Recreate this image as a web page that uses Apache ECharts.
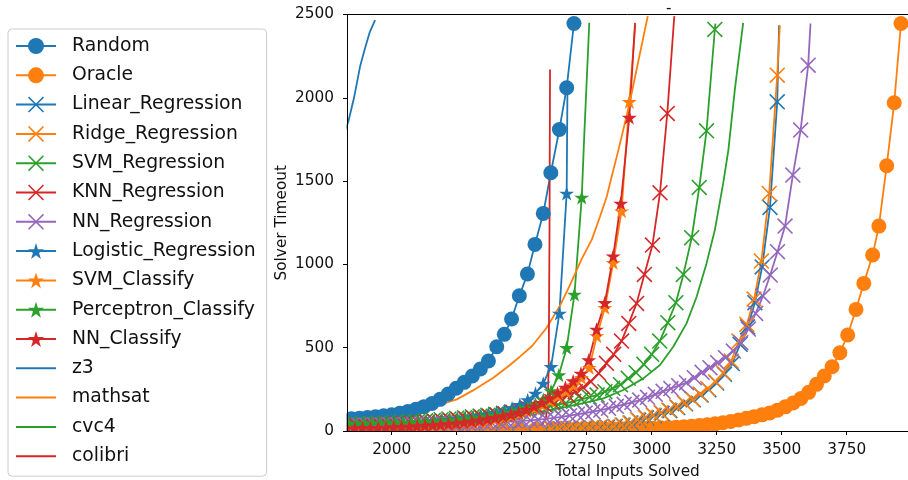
<!DOCTYPE html>
<html>
<head>
<meta charset="utf-8">
<script src="https://cdn.jsdelivr.net/npm/echarts@6/dist/echarts.min.js"></script>
<style>
html, body { margin: 0; padding: 0; background: #fff; }
#chart { width: 908px; height: 480px; }
</style>
</head>
<body>
<div id="chart"></div>
<script>
// cactus plot: [inputs solved, timeout] — marker points, then line-only tail points
const randomPts = [[1814,70],[1845,73],[1876,77],[1907,81],[1938,86],[1969,91],[2000,97],[2031,106],[2062,117],[2093,130],[2124,146],[2155,165],[2186,190],[2217,222],[2248,257],[2279,292],[2310,330],[2341,372],[2372,420],[2404,506],[2433,580],[2461,672],[2491,812],[2522,942],[2551,1120],[2583,1306],[2612,1550],[2645,1810],[2673,2060],[2701,2446]];
const oraclePts = [[1782,2],[1846,2],[1910,2],[1974,2],[2038,3],[2102,3],[2166,3],[2230,4],[2294,4],[2358,5],[2422,5],[2486,6],[2550,6],[2614,7],[2644,8],[2674,8],[2704,9],[2734,9],[2764,10],[2794,10],[2824,11],[2854,12],[2884,13],[2914,14],[2944,15],[2974,16],[3004,17],[3034,19],[3064,21],[3094,23],[3124,26],[3154,29],[3184,33],[3214,38],[3244,43],[3274,50],[3304,57],[3334,66],[3364,76],[3394,86],[3424,97],[3454,108],[3484,125],[3514,145],[3544,168],[3574,195],[3604,232],[3634,280],[3664,330],[3694,386],[3724,470],[3754,576],[3786,730],[3816,886],[3850,1056],[3874,1230],[3904,1592],[3933,1970],[3959,2446]];
const linearPts = [[1822,3],[1886,3],[1950,4],[2014,4],[2078,5],[2142,5],[2206,6],[2270,6],[2334,7],[2398,8],[2462,9],[2526,10],[2590,11],[2620,12],[2650,13],[2680,14],[2710,15],[2740,16],[2770,18],[2800,20],[2830,23],[2860,27],[2890,35],[2920,48],[2950,65],[2980,79],[3010,92],[3040,106],[3070,122],[3100,141],[3130,163],[3160,187],[3190,216],[3220,248],[3250,288],[3280,340],[3310,405],[3340,520],[3369,625],[3397,770],[3425,985],[3455,1342],[3483,1976]];
const linearTail = [[3490,2436]];
const ridgePts = [[1818,3],[1882,3],[1946,4],[2010,4],[2074,5],[2138,5],[2202,6],[2266,6],[2330,7],[2394,8],[2458,9],[2522,10],[2586,12],[2616,13],[2646,14],[2676,15],[2706,16],[2736,17],[2766,19],[2796,21],[2826,24],[2856,28],[2886,36],[2916,48],[2946,68],[2976,82],[3006,96],[3036,110],[3066,126],[3096,145],[3126,168],[3156,192],[3186,222],[3216,255],[3246,295],[3276,350],[3306,420],[3336,540],[3366,640],[3394,792],[3422,1020],[3452,1426],[3483,2136]];
const ridgeTail = [[3493,2436]];
const svmRegPts = [[1830,38],[1860,40],[1890,42],[1920,44],[1950,46],[1980,48],[2010,50],[2040,52],[2070,55],[2100,58],[2130,61],[2160,64],[2190,68],[2220,72],[2250,76],[2280,80],[2310,85],[2340,90],[2370,95],[2400,100],[2430,106],[2460,112],[2490,119],[2520,126],[2550,134],[2580,142],[2610,150],[2640,158],[2670,168],[2700,178],[2730,190],[2760,204],[2790,216],[2820,236],[2850,256],[2880,278],[2910,316],[2940,350],[2970,400],[3000,460],[3031,540],[3062,650],[3093,770],[3122,940],[3154,1160],[3183,1462],[3211,1802],[3243,2410]];
const svmRegTail = [[3245,2445]];
const knnPts = [[1806,28],[1836,29],[1866,31],[1896,33],[1926,35],[1956,37],[1986,39],[2016,41],[2046,43],[2076,46],[2106,49],[2136,52],[2166,55],[2196,59],[2226,63],[2256,67],[2286,72],[2316,77],[2346,83],[2376,89],[2406,96],[2436,104],[2466,113],[2496,123],[2526,134],[2556,146],[2586,160],[2616,176],[2646,194],[2676,214],[2706,236],[2736,262],[2766,296],[2796,346],[2826,406],[2854,460],[2884,540],[2912,646],[2942,766],[2972,940],[3003,1116],[3032,1430],[3060,1906]];
const knnTail = [[3087,2490]];
const nnRegPts = [[1814,34],[1844,34],[1874,35],[1904,35],[1934,36],[1964,36],[1994,37],[2024,37],[2054,38],[2084,39],[2114,40],[2144,41],[2174,42],[2204,43],[2234,44],[2264,45],[2294,46],[2324,47],[2354,49],[2384,51],[2414,53],[2444,55],[2474,58],[2504,61],[2534,64],[2564,68],[2594,73],[2624,79],[2654,85],[2684,92],[2714,100],[2744,108],[2774,116],[2804,126],[2834,136],[2864,148],[2894,160],[2924,172],[2954,186],[2984,202],[3014,220],[3044,238],[3074,255],[3104,272],[3134,290],[3164,320],[3194,352],[3224,380],[3254,410],[3284,440],[3314,480],[3343,530],[3372,612],[3400,706],[3428,810],[3456,936],[3484,1076],[3513,1230],[3543,1536],[3573,1806],[3602,2196]];
const nnRegTail = [[3611,2446]];
const logisticPts = [[1803,35],[1833,36],[1863,38],[1893,40],[1923,42],[1953,44],[1983,46],[2013,48],[2043,50],[2073,52],[2103,55],[2133,58],[2163,61],[2193,65],[2223,69],[2253,74],[2283,79],[2313,85],[2343,92],[2373,100],[2403,110],[2433,122],[2463,138],[2493,158],[2523,186],[2553,226],[2583,286],[2613,386],[2645,706],[2673,1426]];
const logisticTail = [[2676,2050]];
const svmClsPts = [[1800,12],[1830,13],[1860,14],[1890,16],[1920,17],[1950,19],[1980,21],[2010,23],[2040,25],[2070,27],[2100,29],[2130,32],[2160,35],[2190,38],[2220,42],[2250,46],[2280,50],[2310,55],[2340,61],[2370,67],[2400,74],[2430,82],[2460,92],[2490,105],[2520,120],[2550,138],[2580,158],[2610,182],[2640,210],[2670,240],[2700,275],[2730,320],[2760,380],[2789,570],[2820,740],[2852,1010],[2884,1320],[2914,1976]];
const svmClsTail = [[2937,2440]];
const percPts = [[1803,41],[1833,42],[1863,43],[1893,44],[1923,45],[1953,46],[1983,47],[2013,48],[2043,50],[2073,52],[2103,54],[2133,56],[2163,58],[2193,61],[2223,64],[2253,68],[2283,72],[2313,77],[2343,82],[2373,88],[2403,95],[2433,103],[2463,113],[2493,125],[2523,140],[2553,160],[2583,190],[2613,240],[2643,336],[2673,500],[2703,820],[2731,1402]];
const percTail = [[2740,1750],[2760,2450]];
const nnClsPts = [[1798,15],[1828,16],[1858,17],[1888,18],[1918,19],[1948,20],[1978,22],[2008,24],[2038,26],[2068,28],[2098,30],[2128,33],[2158,36],[2188,39],[2218,43],[2248,47],[2278,52],[2308,58],[2338,65],[2368,72],[2398,80],[2428,90],[2458,100],[2488,112],[2518,128],[2548,148],[2578,170],[2608,196],[2638,228],[2668,262],[2698,300],[2728,346],[2758,426],[2788,610],[2820,770],[2852,1050],[2881,1366],[2914,1882]];
const nnClsTail = [[2936,2450]];
const z3Pts = [[1815,1780],[1833,1856],[1855,2000],[1878,2186],[1897,2296],[1916,2396],[1936,2466]];
const mathsatPts = [[1815,52],[1900,65],[2000,85],[2083,110],[2170,150],[2250,190],[2320,250],[2391,320],[2450,390],[2493,446],[2540,510],[2596,620],[2650,760],[2690,890],[2730,1030],[2770,1150],[2801,1286],[2827,1406],[2846,1526],[2872,1686],[2914,1960],[2950,2230],[2985,2490]];
const cvc4Pts = [[1800,35],[1900,40],[2000,45],[2100,58],[2186,70],[2300,82],[2400,92],[2500,104],[2571,116],[2650,138],[2750,172],[2814,196],[2891,246],[2968,316],[3032,396],[3083,506],[3134,646],[3173,806],[3211,1006],[3243,1206],[3275,1486],[3295,1686],[3320,2050],[3352,2450]];
const colibriPts = [[1800,4],[2200,5],[2450,8],[2540,14],[2575,30],[2592,70],[2600,150],[2604,400],[2607,1200],[2609,2170]];

const xMin = 1828, xMax = 3986;
const yTicks = [0, 2500, 500];

const FONT = 'DejaVu Sans';
const BLUE = '#1f77b4', ORANGE = '#ff7f0e', GREEN = '#2ca02c', RED = '#d62728', PURPLE = '#9467bd';
const STAR = 'path://M50,0L61.23,34.55L97.55,34.55L68.17,55.9L79.39,90.45L50,69.1L20.61,90.45L31.83,55.9L2.45,34.55L38.77,34.55Z';
const CROSS = 'path://M0,7L7,0L50,43L93,0L100,7L57,50L100,93L93,100L50,57L7,100L0,93L43,50Z';
const BAR = 'path://M0,0H40V2H0Z';

function marked(name, color, symbol, size, pts, tail) {
  return {
    name: name, type: 'line', color: color,
    data: pts.concat((tail || []).map(p => ({ value: p, symbol: 'none' }))),
    symbol: symbol, symbolSize: size, symbolKeepAspect: true, showAllSymbol: true,
    lineStyle: { width: 1.8, color: color },
    itemStyle: { color: color, borderWidth: 0 },
    emphasis: { disabled: true }
  };
}
function plain(name, color, pts) {
  return {
    name: name, type: 'line', color: color, data: pts, symbol: 'none',
    lineStyle: { width: 1.8, color: color }, itemStyle: { color: color },
    emphasis: { disabled: true }
  };
}

const series = [
  marked('Random', BLUE, 'circle', 15, randomPts),
  marked('Oracle', ORANGE, 'circle', 15, oraclePts),
  marked('Linear_Regression', BLUE, CROSS, 16, linearPts, linearTail),
  marked('Ridge_Regression', ORANGE, CROSS, 16, ridgePts, ridgeTail),
  marked('SVM_Regression', GREEN, CROSS, 16, svmRegPts, svmRegTail),
  marked('KNN_Regression', RED, CROSS, 16, knnPts, knnTail),
  marked('NN_Regression', PURPLE, CROSS, 16, nnRegPts, nnRegTail),
  marked('Logistic_Regression', BLUE, STAR, 15, logisticPts, logisticTail),
  marked('SVM_Classify', ORANGE, STAR, 15, svmClsPts, svmClsTail),
  marked('Perceptron_Classify', GREEN, STAR, 15, percPts, percTail),
  marked('NN_Classify', RED, STAR, 15, nnClsPts, nnClsTail),
  plain('z3', BLUE, z3Pts),
  plain('mathsat', ORANGE, mathsatPts),
  plain('cvc4', GREEN, cvc4Pts),
  plain('colibri', RED, colibriPts)
];

const plainNames = ['z3', 'mathsat', 'cvc4', 'colibri'];
const legendData = series.map(s => plainNames.indexOf(s.name) >= 0 ? { name: s.name, icon: BAR } : { name: s.name });

const axisText = { fontFamily: FONT, fontSize: 15.3, color: '#111' };
const plainNum = v => String(v);

const chart = echarts.init(document.getElementById('chart'), null, { renderer: 'canvas' });
chart.setOption({
  animation: false,
  backgroundColor: '#fff',
  title: {
    text: '-', left: 666, top: 2, padding: 0,
    textStyle: { fontFamily: FONT, fontSize: 15, fontWeight: 'normal', color: '#111' }
  },
  grid: { left: 347, right: 0, top: 14.5, bottom: 49, containLabel: false, outerBoundsMode: 'none' },
  legend: {
    orient: 'vertical', left: 8, top: 29,
    padding: [7, 11, 10, 7],
    itemWidth: 40, itemHeight: 20, itemGap: 9.3,
    selectedMode: false,
    backgroundColor: 'rgba(255,255,255,0.8)',
    borderColor: '#cccccc', borderWidth: 1, borderRadius: 4,
    textStyle: { fontFamily: FONT, fontSize: 18.8, color: '#111', lineHeight: 20, padding: [0, 0, 0, 11] },
    data: legendData
  },
  xAxis: [{
    type: 'value', min: xMin, max: xMax, minInterval: 250, maxInterval: 250, z: 60,
    name: 'Total Inputs Solved', nameLocation: 'middle', nameGap: 34, nameMoveOverlap: false,
    nameTextStyle: axisText,
    axisLine: { show: true, onZero: false, lineStyle: { color: '#000', width: 1 } },
    axisTick: { show: true, length: 4, lineStyle: { color: '#000', width: 1 } },
    axisLabel: Object.assign({ margin: 12, showMinLabel: false, showMaxLabel: false, formatter: plainNum }, axisText),
    splitLine: { show: false }
  }, {
    type: 'value', position: 'top', min: xMin, max: xMax, z: 60,
    axisLine: { show: true, onZero: false, lineStyle: { color: '#000', width: 1 } },
    axisTick: { show: false }, axisLabel: { show: false }, splitLine: { show: false }
  }],
  yAxis: {
    type: 'value', min: yTicks[0], max: yTicks[1], interval: yTicks[2], z: 60,
    name: 'Solver Timeout', nameLocation: 'middle', nameGap: 57, nameRotate: 90, nameMoveOverlap: false,
    nameTextStyle: axisText,
    axisLine: { show: true, onZero: false, lineStyle: { color: '#000', width: 1 } },
    axisTick: { show: true, length: 4, lineStyle: { color: '#000', width: 1 } },
    axisLabel: Object.assign({ margin: 13, formatter: plainNum }, axisText),
    splitLine: { show: false }
  },
  // white masks emulate matplotlib clipping of markers at the axes edges
  graphic: [
    { type: 'rect', silent: true, z: 50, shape: { x: 300, y: 431.5, width: 608, height: 48.5 }, style: { fill: '#fff' } },
    { type: 'rect', silent: true, z: 50, shape: { x: 300, y: 0, width: 46.5, height: 480 }, style: { fill: '#fff' } }
  ],
  series: series
});
</script>
</body>
</html>
